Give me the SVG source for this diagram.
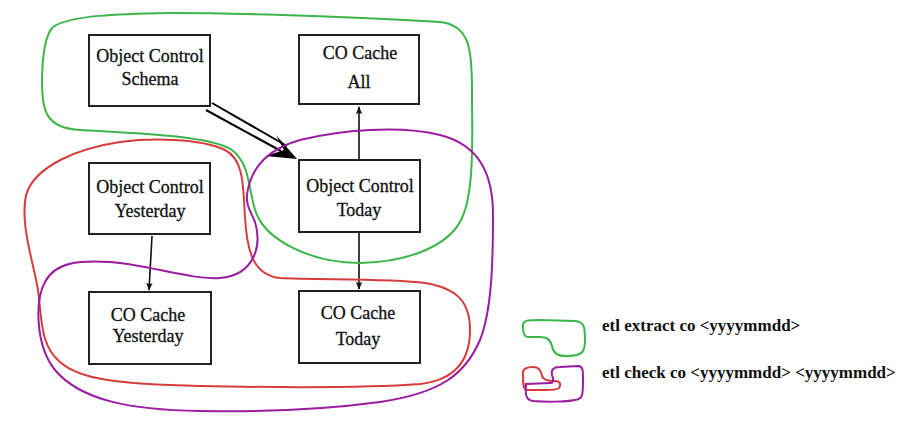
<svg xmlns="http://www.w3.org/2000/svg" width="909" height="428" viewBox="0 0 909 428">
<defs>
<style>
.box{fill:#fff;stroke:#222;stroke-width:2}
.t{font-family:"Liberation Serif","Times New Roman",serif;font-size:18px;fill:#111;stroke:#111;stroke-width:0.3;text-anchor:middle}
.lg{font-family:"Liberation Serif","Times New Roman",serif;font-size:17px;font-weight:bold;fill:#111}
.edge{stroke:#111;stroke-width:1.6;fill:none}
.green{fill:none;stroke:#3cb54a;stroke-width:2}
.red{fill:none;stroke:#d63c3c;stroke-width:2}
.purple{fill:none;stroke:#9a1c9f;stroke-width:2}
</style>
<marker id="ah" viewBox="0 0 10 10" refX="9" refY="5" markerWidth="8" markerHeight="8" markerUnits="userSpaceOnUse" orient="auto">
<path d="M0,1 L10,5 L0,9 L2,5 Z" fill="#111"/>
</marker>
</defs>
<rect width="909" height="428" fill="#fff"/>

<g id="nodes">
<g id="schema"><rect class="box" x="89" y="35" width="121" height="71"/><text class="t" x="150" y="62">Object Control</text><text class="t" x="150" y="85">Schema</text></g>
<g id="cacheAll"><rect class="box" x="299" y="35" width="120" height="69"/><text class="t" x="360" y="59">CO Cache</text><text class="t" x="359" y="88">All</text></g>
<g id="ocYesterday"><rect class="box" x="89" y="163" width="121" height="71"/><text class="t" x="150" y="193">Object Control</text><text class="t" x="150" y="217">Yesterday</text></g>
<g id="ocToday"><rect class="box" x="299" y="160" width="121" height="72"/><text class="t" x="360" y="192">Object Control</text><text class="t" x="359" y="216">Today</text></g>
<g id="cacheYesterday"><rect class="box" x="89" y="292" width="122" height="72"/><text class="t" x="148" y="321">CO Cache</text><text class="t" x="148" y="342">Yesterday</text></g>
<g id="cacheToday"><rect class="box" x="299" y="291" width="121" height="72"/><text class="t" x="358" y="319">CO Cache</text><text class="t" x="358" y="345">Today</text></g>
</g>

<g id="connectors">
<line x1="212" y1="103" x2="287" y2="146" stroke="#000" stroke-width="2"/>
<line x1="206" y1="110" x2="281" y2="151" stroke="#000" stroke-width="2"/>
<path d="M297,159 L276,135 L284,150 L266,156 Z" fill="#000"/>
<line class="edge" x1="359" y1="160" x2="359" y2="107" marker-end="url(#ah)"/>
<line class="edge" x1="152" y1="236" x2="149" y2="290" marker-end="url(#ah)"/>
<line class="edge" x1="359" y1="232" x2="359" y2="289" marker-end="url(#ah)"/>
</g>

<g id="groups">
<path class="green" d="M53,27 C70,15 120,14 170,13 C250,13 380,18 440,22 C470,25 472,50 472,90 C472,130 475,190 462,218 C450,245 410,262 360,263 C310,263 268,240 257,215 C248,195 252,165 232,150 C210,135 130,133 80,130 C45,128 43,110 42,85 C42,55 45,35 53,27 Z"/>
<path class="red" d="M245,217 C243,190 245,160 225,150 C200,138 150,138 120,142 C80,148 35,165 26,195 C20,225 33,260 38,290 C42,320 40,345 60,362 C80,380 120,384 200,386 C300,388 380,387 420,384 C455,380 470,360 470,330 C470,300 455,288 425,283 C390,278 320,280 280,278 C255,275 247,255 245,217 Z"/>
<path class="purple" d="M247,195 C250,170 265,150 300,140 C340,130 400,125 440,135 C480,145 493,175 493,215 C493,260 492,310 480,340 C465,375 440,393 380,402 C320,410 250,412 200,411 C130,410 80,400 55,370 C35,345 35,300 45,282 C55,262 80,260 110,262 C150,265 190,280 220,278 C255,275 262,245 255,222 C250,210 246,205 247,195 Z"/>
</g>

<g id="legend">
<path class="green" d="M523,327 C522,320 527,320 540,320 L575,321 C584,322 585,326 585,340 C585,353 582,356 565,356 C556,356 553,352 552,346 C550,339 547,337 540,337 L528,337 C524,337 523,333 523,327 Z"/>
<path class="red" d="M523,375 C522,368 528,367 533,367 C540,367 541,372 542,376 C543,380 548,381 555,381 C561,381 561,385 559,388 C557,391 540,390 527,390 C523,390 523,382 523,375 Z"/>
<path class="purple" d="M526,384 L550,383 C555,383 553,378 552,375 C551,370 553,367 560,367 L578,366 C583,366 583,370 583,380 C583,395 583,399 575,400 C565,402 545,402 533,401 C526,400 525,395 526,384 Z"/>
<text class="lg" x="602" y="331">etl extract co &lt;yyyymmdd&gt;</text>
<text class="lg" x="602" y="378">etl check co &lt;yyyymmdd&gt; &lt;yyyymmdd&gt;</text>
</g>
</svg>
